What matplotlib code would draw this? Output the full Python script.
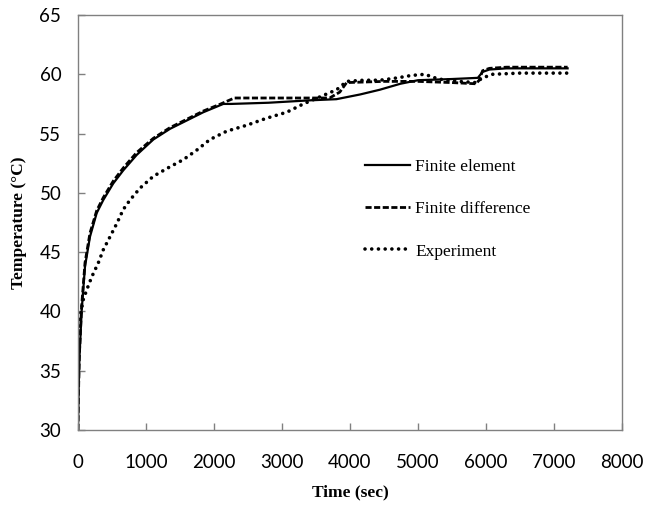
import matplotlib
matplotlib.use('Agg')
import matplotlib.pyplot as plt

# Finite element
t_fe = [0, 10, 20, 54, 103, 176, 275, 372, 519, 666, 863, 1108, 1353, 1598, 1843, 2137,
        2250, 2800, 3400, 3800, 4150, 4440, 4740, 5000, 5500, 5880, 5950, 6050, 6300, 7200]
T_fe = [30, 33.5, 35.9, 40.1, 43.8, 46.3, 48.3, 49.4, 50.8, 51.9, 53.2, 54.5, 55.4, 56.1, 56.8, 57.5,
        57.5, 57.6, 57.8, 57.9, 58.3, 58.7, 59.2, 59.5, 59.6, 59.7, 60.2, 60.4, 60.5, 60.5]

# Finite difference
t_fd = [0, 10, 20, 54, 103, 176, 275, 372, 519, 666, 863, 1108, 1353, 1598, 1843, 2100,
        2300, 2800, 3400, 3700, 3850, 3950, 4500, 5000, 5500, 5850, 5900, 5950, 6050, 6300, 7200]
T_fd = [30, 33.8, 36.3, 40.5, 44.1, 46.6, 48.5, 49.6, 51.0, 52.1, 53.4, 54.6, 55.5, 56.2, 56.9, 57.5,
        58.0, 58.0, 58.0, 58.0, 58.5, 59.3, 59.4, 59.4, 59.3, 59.2, 59.5, 60.3, 60.5, 60.6, 60.6]

# Experiment
t_ex = [0, 15, 29, 78, 127, 201, 299, 372, 471, 569, 666, 765, 912, 1108, 1353, 1549, 1745,
        1941, 2186, 2480, 2775, 3069, 3314, 3559, 3804, 3951, 4200, 4441, 4700, 4900, 5100,
        5300, 5600, 5850, 5950, 6100, 6500, 7200]
T_ex = [36.5, 38.5, 39.5, 41.0, 41.8, 42.9, 44.1, 45.2, 46.3, 47.4, 48.6, 49.4, 50.4, 51.4, 52.2,
        52.8, 53.6, 54.5, 55.2, 55.7, 56.3, 56.8, 57.5, 58.1, 58.7, 59.4, 59.5, 59.5, 59.7, 59.9,
        60.0, 59.6, 59.4, 59.3, 59.7, 60.0, 60.1, 60.1]

labels = ['Finite element', 'Finite difference', 'Experiment']

fig = plt.figure(figsize=(6.53, 5.13), dpi=100)
ax = fig.add_axes([78 / 653, 83 / 513, 544 / 653, 415 / 513])

ax.plot(t_fe, T_fe, '-', color='black', linewidth=1.6, label=labels[0])
ax.plot(t_fd, T_fd, color='black', linewidth=2.0, linestyle=(0, (2.2, 0.9)),
        dash_capstyle='butt', label=labels[1])
ax.plot(t_ex, T_ex, color='black', linewidth=2.6, linestyle=(0, (0.01, 1.85)),
        dash_capstyle='round', label=labels[2])

ax.set_xlim(0, 8000)
ax.set_ylim(30, 65)
ax.set_xticks(range(0, 8001, 1000))
ax.set_yticks(range(30, 66, 5))

for s in ax.spines.values():
    s.set_color('#808080')
    s.set_linewidth(1.0)
ax.tick_params(direction='in', length=5, width=1, color='#808080',
               labelsize=13.5, labelcolor='black')
ax.tick_params(axis='x', pad=17)
ax.tick_params(axis='y', pad=12)
for lab in ax.get_xticklabels() + ax.get_yticklabels():
    lab.set_family('Lato')

ax.set_xlabel('Time (sec)', family='Liberation Serif', fontweight='bold', fontsize=12.5, labelpad=10)
ax.set_ylabel('Temperature (°C)', family='Liberation Serif', fontweight='bold', fontsize=12.5, labelpad=9)

ax.legend(loc='upper left', bbox_to_anchor=(0.527, 0.653), frameon=False,
          prop={'family': 'Liberation Serif', 'size': 12.5},
          handlelength=2.6, handletextpad=0.3, labelspacing=1.5,
          borderpad=0, borderaxespad=0)

fig.savefig('out.png', dpi=100)
